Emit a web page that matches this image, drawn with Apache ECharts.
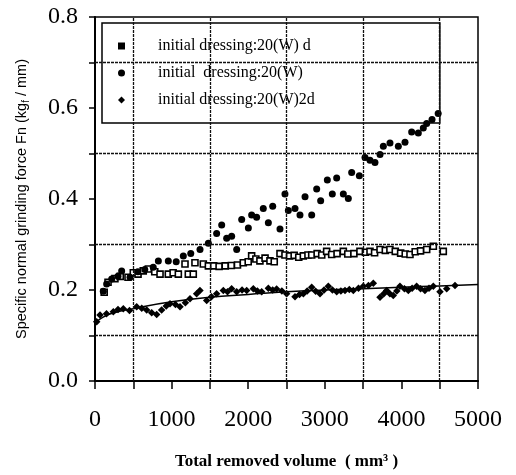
<!DOCTYPE html>
<html>
<head>
<meta charset="utf-8">
<script src="https://cdn.jsdelivr.net/npm/echarts@6/dist/echarts.min.js"></script>
<style>
    html, body {margin: 0; padding: 0; background: #fff;}
    #echarts {width: 516px; height: 475px;}
</style>
</head>
<body>
<div id="echarts"></div>
<script>
// 图例名称
var seriesNames = ['initial dressing:20(W) d', 'initial  dressing:20(W)', 'initial dressing:20(W)2d'];

// 方块: 20(W) d
var squareData = [
    [120, 0.195], [170, 0.217], [260, 0.225], [330, 0.23], [431, 0.228], [500, 0.238], [562, 0.235],
    [630, 0.242], [696, 0.246], [780, 0.24], [849, 0.235], [957, 0.235], [1020, 0.238], [1088, 0.235],
    [1175, 0.257], [1218, 0.235], [1283, 0.235], [1305, 0.26], [1414, 0.257], [1480, 0.253],
    [1550, 0.253], [1620, 0.252], [1700, 0.253], [1780, 0.254], [1860, 0.255], [1936, 0.26],
    [2000, 0.262], [2045, 0.275], [2100, 0.268], [2153, 0.264], [2220, 0.27], [2284, 0.264],
    [2340, 0.262], [2415, 0.28], [2480, 0.277], [2540, 0.275], [2600, 0.276], [2660, 0.272],
    [2720, 0.275], [2780, 0.277], [2829, 0.277], [2900, 0.28], [2960, 0.277], [3024, 0.285],
    [3090, 0.278], [3160, 0.28], [3242, 0.285], [3300, 0.279], [3380, 0.28], [3459, 0.285],
    [3530, 0.283], [3590, 0.285], [3650, 0.282], [3721, 0.289], [3790, 0.287], [3850, 0.289],
    [3920, 0.285], [3990, 0.281], [4050, 0.279], [4112, 0.278], [4180, 0.284], [4250, 0.286],
    [4330, 0.289], [4417, 0.296], [4547, 0.285]
];

// 圆点: 20(W)
var circleData = [
    [108, 0.197], [152, 0.213], [218, 0.224], [300, 0.23], [348, 0.242], [457, 0.228], [560, 0.24],
    [650, 0.245], [760, 0.25], [827, 0.264], [957, 0.264], [1060, 0.262], [1153, 0.275], [1250, 0.28],
    [1371, 0.289], [1480, 0.303], [1588, 0.324], [1654, 0.343], [1719, 0.314], [1784, 0.318],
    [1850, 0.289], [1915, 0.355], [2002, 0.336], [2045, 0.365], [2110, 0.36], [2197, 0.379],
    [2263, 0.348], [2320, 0.384], [2415, 0.334], [2480, 0.411], [2524, 0.375], [2611, 0.379],
    [2676, 0.365], [2742, 0.405], [2829, 0.365], [2894, 0.422], [2946, 0.396], [3033, 0.442],
    [3098, 0.411], [3155, 0.446], [3242, 0.411], [3307, 0.401], [3351, 0.458], [3451, 0.451],
    [3525, 0.491], [3590, 0.485], [3655, 0.48], [3721, 0.498], [3764, 0.516], [3851, 0.523],
    [3960, 0.516], [4047, 0.525], [4134, 0.547], [4221, 0.545], [4286, 0.556], [4330, 0.566],
    [4400, 0.575], [4480, 0.588]
];

// 菱形: 20(W)2d
var diamondData = [
    [22, 0.13], [65, 0.145], [150, 0.148], [239, 0.152], [300, 0.157], [370, 0.159], [450, 0.155],
    [544, 0.163], [610, 0.16], [675, 0.156], [740, 0.15], [805, 0.146], [870, 0.156], [930, 0.165],
    [979, 0.17], [1050, 0.168], [1110, 0.163], [1180, 0.172], [1240, 0.181], [1327, 0.192],
    [1370, 0.199], [1458, 0.177], [1520, 0.185], [1588, 0.192], [1675, 0.199], [1730, 0.196],
    [1784, 0.203], [1850, 0.196], [1920, 0.2], [1980, 0.199], [2067, 0.203], [2120, 0.198],
    [2176, 0.196], [2263, 0.204], [2320, 0.2], [2371, 0.202], [2440, 0.198], [2502, 0.192],
    [2611, 0.185], [2670, 0.19], [2720, 0.192], [2770, 0.198], [2829, 0.206], [2880, 0.197],
    [2937, 0.192], [2990, 0.2], [3046, 0.208], [3100, 0.2], [3155, 0.196], [3210, 0.198],
    [3264, 0.199], [3320, 0.201], [3372, 0.199], [3440, 0.204], [3503, 0.208], [3570, 0.21],
    [3633, 0.215], [3721, 0.184], [3770, 0.192], [3807, 0.199], [3850, 0.192], [3894, 0.188],
    [3940, 0.198], [3981, 0.208], [4040, 0.203], [4090, 0.199], [4140, 0.204], [4199, 0.208],
    [4250, 0.203], [4307, 0.199], [4360, 0.204], [4417, 0.208], [4504, 0.196], [4591, 0.203],
    [4700, 0.21]
];

// 拟合曲线
var fitData = [
    [0, 0.127], [100, 0.14], [250, 0.15], [500, 0.159], [1000, 0.174], [1500, 0.184], [2000, 0.19],
    [2500, 0.196], [3000, 0.2], [3500, 0.203], [4000, 0.206], [4500, 0.209], [5000, 0.212]
];

// 网格线位置
var gridX = [500, 1500, 2500, 3500, 4500];
var gridY = [0.1, 0.3, 0.5, 0.7];

var serifFont = '"Liberation Serif", "DejaVu Serif", serif';
var sansFont = '"Liberation Sans", "DejaVu Sans", sans-serif';

var markLines = gridX.map(function (v) {
    return {xAxis: v};
}).concat(gridY.map(function (v) {
    return {yAxis: v};
}));

var myChart = echarts.init(document.getElementById('echarts'));
myChart.setOption({
    animation: false,
    backgroundColor: '#fff',
    grid: {
        left: 95,
        right: 38,
        top: 17,
        bottom: 88,
        show: true,
        borderColor: '#000',
        borderWidth: 1.5
    },
    legend: {
        data: [
            {name: seriesNames[0], icon: 'rect', itemStyle: {color: '#000', borderWidth: 0}},
            {name: seriesNames[1], icon: 'circle'},
            {name: seriesNames[2], icon: 'diamond'}
        ],
        orient: 'vertical',
        left: 102,
        top: 23,
        padding: [15, 125, 15, 16],
        itemWidth: 7,
        itemHeight: 7,
        itemGap: 11,
        backgroundColor: '#fff',
        borderColor: '#000',
        borderWidth: 1.5,
        textStyle: {
            fontFamily: serifFont,
            fontSize: 16,
            color: '#000',
            padding: [0, 0, 0, 28]
        }
    },
    xAxis: {
        type: 'value',
        min: 0,
        max: 5000,
        interval: 500,
        name: 'Total removed volume  ( mm³ )',
        nameLocation: 'middle',
        nameGap: 72,
        nameTextStyle: {
            fontFamily: serifFont,
            fontSize: 17,
            fontWeight: 'bold',
            color: '#000'
        },
        axisLine: {lineStyle: {color: '#000', width: 2}},
        axisTick: {length: 8, lineStyle: {color: '#000', width: 1.5}},
        axisLabel: {
            margin: 27,
            fontFamily: serifFont,
            fontSize: 24,
            color: '#000',
            formatter: function (value) {
                return value % 1000 === 0 ? String(value) : '';
            }
        },
        splitLine: {show: false}
    },
    yAxis: {
        type: 'value',
        min: 0,
        max: 0.8,
        interval: 0.1,
        name: '{t|Specific normal grinding force Fn (kg}{s|f}{t| / mm)}',
        nameLocation: 'middle',
        nameGap: 64,
        nameTextStyle: {
            rich: {
                t: {fontFamily: sansFont, fontSize: 14.5, color: '#000'},
                s: {fontFamily: sansFont, fontSize: 10, color: '#000', padding: [8, 0, 0, 0]}
            }
        },
        axisLine: {lineStyle: {color: '#000', width: 2}},
        axisTick: {length: 6, lineStyle: {color: '#000', width: 1.5}},
        axisLabel: {
            margin: 17,
            fontFamily: serifFont,
            fontSize: 24,
            color: '#000',
            formatter: function (value) {
                return Math.round(value * 10) % 2 === 0 ? value.toFixed(1) : '';
            }
        },
        splitLine: {show: false}
    },
    series: [
        {
            name: 'fit',
            type: 'line',
            data: fitData,
            smooth: true,
            showSymbol: false,
            lineStyle: {color: '#000', width: 1.5},
            z: 3,
            markLine: {
                silent: true,
                symbol: ['none', 'none'],
                label: {show: false},
                lineStyle: {color: '#111', width: 1.3, type: [3, 1]},
                data: markLines
            }
        },
        {
            name: seriesNames[0],
            type: 'scatter',
            data: squareData,
            symbol: 'rect',
            symbolSize: 6,
            itemStyle: {color: '#fff', borderColor: '#000', borderWidth: 1.6, opacity: 1},
            z: 4
        },
        {
            name: seriesNames[1],
            type: 'scatter',
            data: circleData,
            symbol: 'circle',
            symbolSize: 7,
            itemStyle: {color: '#000', opacity: 1},
            z: 4
        },
        {
            name: seriesNames[2],
            type: 'scatter',
            data: diamondData,
            symbol: 'diamond',
            symbolSize: 7.5,
            itemStyle: {color: '#000', opacity: 1},
            z: 4
        }
    ]
});
</script>
</body>
</html>
